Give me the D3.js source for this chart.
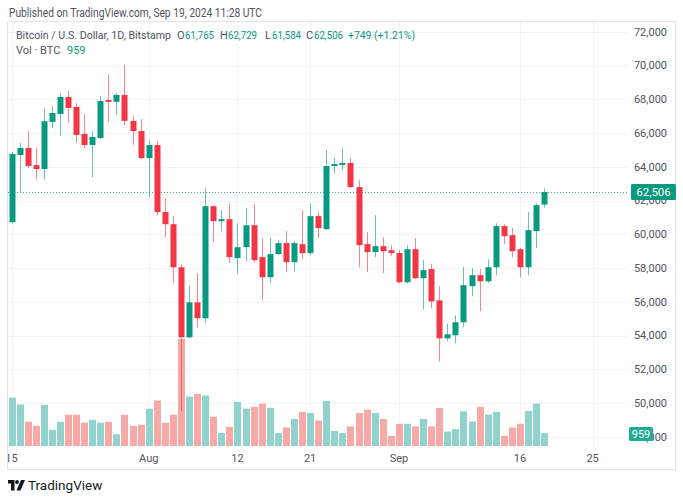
<!DOCTYPE html>
<html><head><meta charset="utf-8">
<script src="https://cdn.jsdelivr.net/npm/d3@7"></script>
<style>html,body{margin:0;padding:0;background:#fff;}svg{display:block;font-family:Roboto,"Noto Sans",sans-serif;}</style>
</head><body>
<script>
const dates = ["2024-07-15","2024-07-16","2024-07-17","2024-07-18","2024-07-19","2024-07-20","2024-07-21","2024-07-22","2024-07-23","2024-07-24","2024-07-25","2024-07-26","2024-07-27","2024-07-28","2024-07-29","2024-07-30","2024-07-31",
"2024-08-01","2024-08-02","2024-08-03","2024-08-04","2024-08-05","2024-08-06","2024-08-07","2024-08-08","2024-08-09","2024-08-10","2024-08-11","2024-08-12","2024-08-13","2024-08-14","2024-08-15","2024-08-16","2024-08-17","2024-08-18","2024-08-19","2024-08-20","2024-08-21","2024-08-22","2024-08-23","2024-08-24","2024-08-25","2024-08-26","2024-08-27","2024-08-28","2024-08-29","2024-08-30","2024-08-31",
"2024-09-01","2024-09-02","2024-09-03","2024-09-04","2024-09-05","2024-09-06","2024-09-07","2024-09-08","2024-09-09","2024-09-10","2024-09-11","2024-09-12","2024-09-13","2024-09-14","2024-09-15","2024-09-16","2024-09-17","2024-09-18","2024-09-19"];
const open  = [60720,64700,65120,64100,63870,66660,67130,68140,67550,65950,65290,65710,67960,67850,68260,66720,66120,
64520,65290,61320,60600,58050,53900,55970,55030,61670,60780,60900,58590,59240,60540,58650,57460,58830,59480,58350,59420,58890,61080,60310,64050,64110,64230,62800,59420,58950,59300,59060,
58890,57160,59120,57400,57940,56090,53840,54020,54790,56930,57580,57220,58050,60490,59950,59120,58050,60190,61765];
const high  = [64880,65410,66120,65120,67490,67600,68380,68500,67780,67130,66120,68200,69450,68380,70040,67010,66830,
65530,65530,62150,61080,58230,56990,57700,62740,61700,61440,61850,60660,61560,61790,59770,59770,59650,60190,59600,61440,61850,61320,64990,64520,65110,64520,63210,60130,61140,59830,59360,
59060,59360,59770,58470,58230,56930,54720,55200,58050,58000,57940,58530,60660,60600,60370,59200,61320,61850,62729];
const low   = [60660,62450,63930,63270,63270,66300,65830,66600,65410,65120,63390,65650,66660,67070,66480,65290,64460,
62200,61140,59830,57100,49500,53850,54490,54720,59540,60190,58290,57700,58410,58350,56090,57100,58780,57760,57820,58530,58770,59770,60250,63630,63810,62750,58050,57760,58650,57700,58700,
57100,57100,57350,55560,55620,52470,53660,53540,54490,56330,55440,57100,57580,59420,58650,57460,57580,59180,61584];
const close = [64760,65120,64050,63870,66700,67190,68140,67490,65890,65290,65770,67900,67850,68260,66720,66120,64520,
65290,61320,60600,58050,53900,55970,55030,61670,60780,60900,58650,59240,60540,58470,57460,58830,59480,58350,59480,58890,61080,60370,64050,64170,64230,62800,59360,58950,59300,59000,58890,
57160,59120,57400,57880,56030,53840,54080,54790,56990,57580,57220,58050,60490,59890,59000,58050,60250,61730,62506];
const volume = [3620,3100,1810,1510,3070,1210,1810,2340,2340,1740,1960,1740,1810,880,2340,1510,1590,
2790,3400,1740,2340,8000,3700,3900,3780,2190,980,1430,3300,2790,2920,3170,2850,960,1380,2020,2540,2470,1910,3370,1130,960,1460,2470,2720,2470,2020,760,
1660,1660,1460,2020,1460,2850,1080,1260,2590,1830,2920,2360,2540,760,1380,1660,2620,3170,959];
const priceTicks = [48000,50000,52000,54000,56000,58000,60000,62000,64000,66000,68000,70000,72000];
const timeTickDates = ["2024-07-15","2024-08-01","2024-08-12","2024-08-21","2024-09-01","2024-09-16","2024-09-25"];
const timeTickLabels = ["15","Aug","12","21","Sep","16","25"];
const lastPrice = 62506, lastVolume = 959;

const W = 683, H = 500;
const plotL = 8, plotR = 628, plotT = 22, plotB = 447;
const up = "#089981", down = "#f23645";
const upVol = "#92d2cc", downVol = "#f7a9a7";
const grid = "#f0f3fa", axisText = "#50535e";

const svg = d3.select("body").append("svg").attr("width", W).attr("height", H);
svg.append("rect").attr("width", W).attr("height", H).attr("fill", "#fff");

const parse = d3.utcParse("%Y-%m-%d");
const x = d3.scaleUtc().domain([parse("2024-07-15"), parse("2024-09-25")]).range([11.5, 592.6]);
const y = d3.scaleLinear().domain([48000, 72000]).range([436.9, 31.8]);
const yv = d3.scaleLinear().domain([0, 8000]).range([446, 339]);

const data = dates.map((d, i) => ({date: parse(d), o: open[i], h: high[i], l: low[i], c: close[i], v: volume[i]}));

svg.append("defs").append("clipPath").attr("id", "plot")
  .append("rect").attr("x", plotL).attr("y", plotT).attr("width", plotR - plotL).attr("height", plotB - plotT);

// grid
const g = svg.append("g");
g.selectAll("line.h").data(priceTicks).join("line")
  .attr("x1", plotL).attr("x2", plotR)
  .attr("y1", d => Math.round(y(d)) + 0.5).attr("y2", d => Math.round(y(d)) + 0.5)
  .attr("stroke", grid);
g.selectAll("line.v").data(timeTickDates).join("line")
  .attr("x1", d => Math.round(x(parse(d))) + 0.5).attr("x2", d => Math.round(x(parse(d))) + 0.5)
  .attr("y1", plotT).attr("y2", plotB)
  .attr("stroke", grid);

const plot = svg.append("g").attr("clip-path", "url(#plot)");
// volume
plot.selectAll("rect.vol").data(data).join("rect")
  .attr("x", d => Math.round(x(d.date)) - 3)
  .attr("width", 7)
  .attr("y", d => yv(d.v))
  .attr("height", d => yv(0) - yv(d.v))
  .attr("fill", d => d.c >= d.o ? upVol : downVol);

// last price line
plot.append("line")
  .attr("x1", plotL).attr("x2", plotR)
  .attr("y1", Math.round(y(lastPrice)) + 0.5).attr("y2", Math.round(y(lastPrice)) + 0.5)
  .attr("stroke", up).attr("stroke-dasharray", "1,2").attr("stroke-opacity", 0.8);

// wicks
plot.selectAll("rect.wick").data(data).join("rect")
  .attr("x", d => Math.round(x(d.date)))
  .attr("width", 1)
  .attr("y", d => y(d.h))
  .attr("height", d => y(d.l) - y(d.h))
  .attr("fill", d => d.c >= d.o ? up : down)
  .attr("fill-opacity", 0.6);
// bodies
plot.selectAll("rect.body").data(data).join("rect")
  .attr("x", d => Math.round(x(d.date)) - 2.5)
  .attr("width", 6)
  .attr("y", d => y(Math.max(d.o, d.c)))
  .attr("height", d => Math.max(1.5, Math.abs(y(d.o) - y(d.c))))
  .attr("fill", d => d.c >= d.o ? up : down);

// frame
svg.append("rect").attr("x", 7.5).attr("y", 21.5).attr("width", 668).attr("height", 448)
  .attr("fill", "none").attr("stroke", "#e0e3eb");

// price axis labels
const ax = svg.append("g").attr("font-size", 11).attr("fill", axisText);
ax.selectAll("text").data(priceTicks).join("text")
  .attr("x", 667).attr("y", d => y(d)).attr("dy", "0.35em").attr("text-anchor", "end")
  .text(d => d3.format(",")(d));

// time axis labels
const tx = svg.append("g").attr("font-size", 11).attr("fill", axisText);
tx.append("defs").append("clipPath").attr("id", "tclip").append("rect").attr("x", plotL).attr("y", 447).attr("width", plotR - plotL).attr("height", 22);
tx.append("g").attr("clip-path", "url(#tclip)").selectAll("text").data(timeTickDates).join("text")
  .attr("x", d => x(parse(d))).attr("y", 458).attr("dy", "0.35em").attr("text-anchor", "middle")
  .text((d, i) => timeTickLabels[i]);

// last price label
svg.append("rect").attr("x", 631).attr("y", 184).attr("width", 45).attr("height", 16).attr("rx", 1.5).attr("fill", up);
svg.append("text").attr("x", 653.5).attr("y", 192).attr("dy", "0.35em").attr("text-anchor", "middle")
  .attr("font-size", 11.5).attr("fill", "#fff").text(d3.format(",")(lastPrice));
// last volume label
svg.append("rect").attr("x", 629).attr("y", 427).attr("width", 24).attr("height", 14).attr("rx", 1.5).attr("fill", "#22ab94");
svg.append("text").attr("x", 641).attr("y", 434).attr("dy", "0.35em").attr("text-anchor", "middle")
  .attr("font-size", 11).attr("fill", "#fff").text(lastVolume);

// header
svg.append("text").attr("x", 9).attr("y", 17).attr("font-size", 12).attr("fill", "#50535e")
  .attr("textLength", 253).attr("lengthAdjust", "spacingAndGlyphs")
  .text("Published on TradingView.com, Sep 19, 2024 11:28 UTC");
const h2 = svg.append("text").attr("y", 39).attr("font-size", 11).attr("fill", "#50535e");
const seg = [
  [16, "Bitcoin / U.S. Dollar, 1D, Bitstamp", "#50535e", 155],
  [177, "O", "#50535e", null], [185, "61,765", up, 29],
  [220, "H", "#50535e", null], [228, "62,729", up, 29],
  [265, "L", "#50535e", null], [272, "61,584", up, 29],
  [306, "C", "#50535e", null], [314, "62,506", up, 29],
  [348, "+749 (+1.21%)", up, 67]
];
seg.forEach(s => {
  const t = h2.append("tspan").attr("x", s[0]).attr("fill", s[2]).text(s[1]);
  if (s[3]) t.attr("textLength", s[3]).attr("lengthAdjust", "spacingAndGlyphs");
});
const h3 = svg.append("text").attr("y", 54).attr("font-size", 11).attr("fill", "#50535e");
h3.append("tspan").attr("x", 16).text("Vol · BTC");
h3.append("tspan").attr("x", 67).attr("fill", up).text(lastVolume);

// footer logo
const logo = svg.append("g").attr("fill", "#131722");
logo.append("path").attr("d", "M8,480 H14.5 V490.5 H11 V483.5 H8 Z");
logo.append("circle").attr("cx", 17).attr("cy", 482).attr("r", 1.9);
logo.append("path").attr("d", "M21,480 H25 L20.5,490.5 H16.5 Z");
svg.append("text").attr("x", 28).attr("y", 490).attr("font-size", 13.5).attr("fill", "#131722").text("TradingView");
</script>
</body></html>
